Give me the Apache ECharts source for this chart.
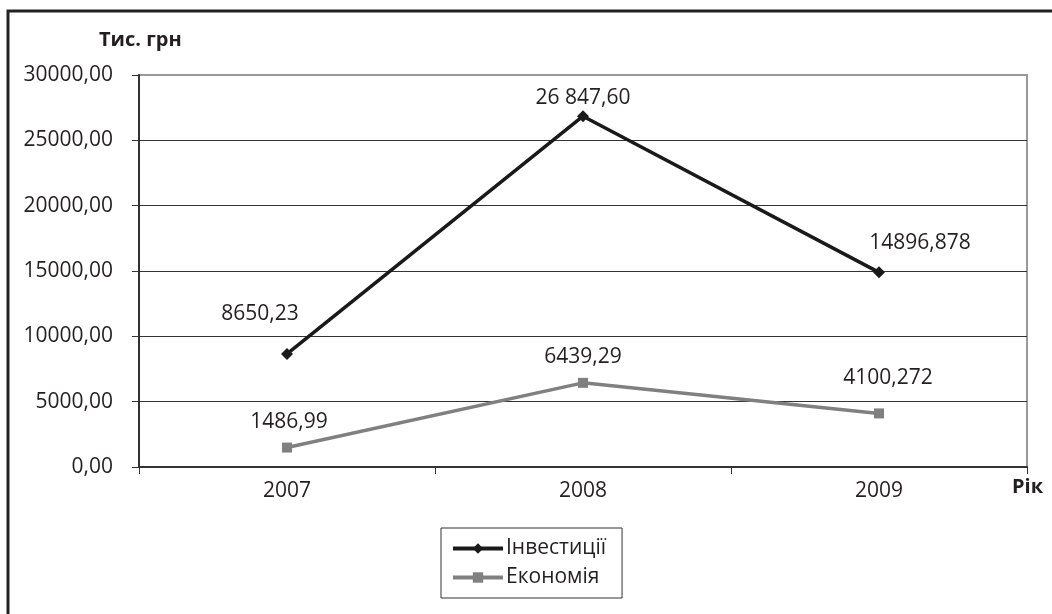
<!DOCTYPE html>
<html>
<head>
<meta charset="utf-8">
<script src="https://cdn.jsdelivr.net/npm/echarts@6/dist/echarts.min.js"></script>
<style>
html,body{margin:0;padding:0;background:#fff;}
#chart{width:1052px;height:614px;}
</style>
</head>
<body>
<div id="chart"></div>
<script>
var categories = ['2007', '2008', '2009'];
var investValues = [8650.23, 26847.60, 14896.878];
var economyValues = [1486.99, 6439.29, 4100.272];
var investLabels = ['8650,23', '26 847,60', '14896,878'];
var economyLabels = ['1486,99', '6439,29', '4100,272'];
var seriesNames = ['Інвестиції', 'Економія'];
var yAxisName = 'Тис. грн';
var xAxisName = 'Рік';

var FONT = '"Open Sans", sans-serif';
var FS = 21;
var investOffsets = [[-27, -18], [0, 3], [41, -8]];
var economyOffsets = [[2, -5], [0, -5], [9, -15]];

function buildData(values, labels, offsets) {
  return values.map(function (v, i) {
    return {
      value: v,
      label: { formatter: labels[i], offset: offsets[i] }
    };
  });
}

var chart = echarts.init(document.getElementById('chart'));
chart.setOption({
  animation: false,
  backgroundColor: '#fff',
  textStyle: { fontFamily: FONT },
  graphic: [
    { type: 'rect', shape: { x: 8, y: 11, width: 1100, height: 700 },
      style: { fill: 'none', stroke: '#222', lineWidth: 3 }, z: 100 },
    { type: 'text', left: 99, top: 30,
      style: { text: yAxisName, font: 'bold 20px ' + FONT, fill: '#231f20' } },
    { type: 'text', left: 1012, top: 477,
      style: { text: xAxisName, font: 'bold 20px ' + FONT, fill: '#231f20' } }
  ],
  grid: { left: 139, right: 25, top: 75, bottom: 147, show: true,
    borderColor: '#999', borderWidth: 2, backgroundColor: 'transparent' },
  legend: {
    orient: 'vertical', left: 441, top: 528,
    padding: [10, 16, 10, 10],
    borderColor: '#333', borderWidth: 1,
    itemWidth: 50, itemHeight: 13, itemGap: 8,
    lineStyle: { width: 4 },
    textStyle: { fontSize: FS, color: '#231f20', fontFamily: FONT, padding: [0, 0, 0, -2] },
    data: seriesNames
  },
  xAxis: {
    type: 'category', data: categories, boundaryGap: true,
    axisLine: { lineStyle: { color: '#333', width: 2 } },
    axisTick: { show: true, length: 7, lineStyle: { color: '#333', width: 1 } },
    axisLabel: { fontSize: FS, color: '#231f20', margin: 14, fontFamily: FONT }
  },
  yAxis: {
    type: 'value', min: 0, max: 30000, interval: 5000,
    axisLine: { show: true, lineStyle: { color: '#333', width: 2 } },
    axisTick: { show: true, length: 7, lineStyle: { color: '#333', width: 1 } },
    axisLabel: { fontSize: FS, color: '#231f20', margin: 26, fontFamily: FONT,
      formatter: function (v) { return v.toFixed(2).replace('.', ','); } },
    splitLine: { lineStyle: { color: ['#333', '#333', '#333', '#333', '#333', '#333', '#999'], width: 1 } }
  },
  series: [
    {
      name: seriesNames[0], type: 'line',
      data: buildData(investValues, investLabels, investOffsets),
      symbol: 'diamond', symbolSize: 12,
      lineStyle: { color: '#1a1a1a', width: 3.5 },
      itemStyle: { color: '#1a1a1a' },
      label: { show: true, position: 'top', fontSize: FS, color: '#231f20', fontFamily: FONT }
    },
    {
      name: seriesNames[1], type: 'line',
      data: buildData(economyValues, economyLabels, economyOffsets),
      symbol: 'rect', symbolSize: 10,
      lineStyle: { color: '#808080', width: 3.5 },
      itemStyle: { color: '#808080' },
      label: { show: true, position: 'top', fontSize: FS, color: '#231f20', fontFamily: FONT }
    }
  ]
});
</script>
</body>
</html>
